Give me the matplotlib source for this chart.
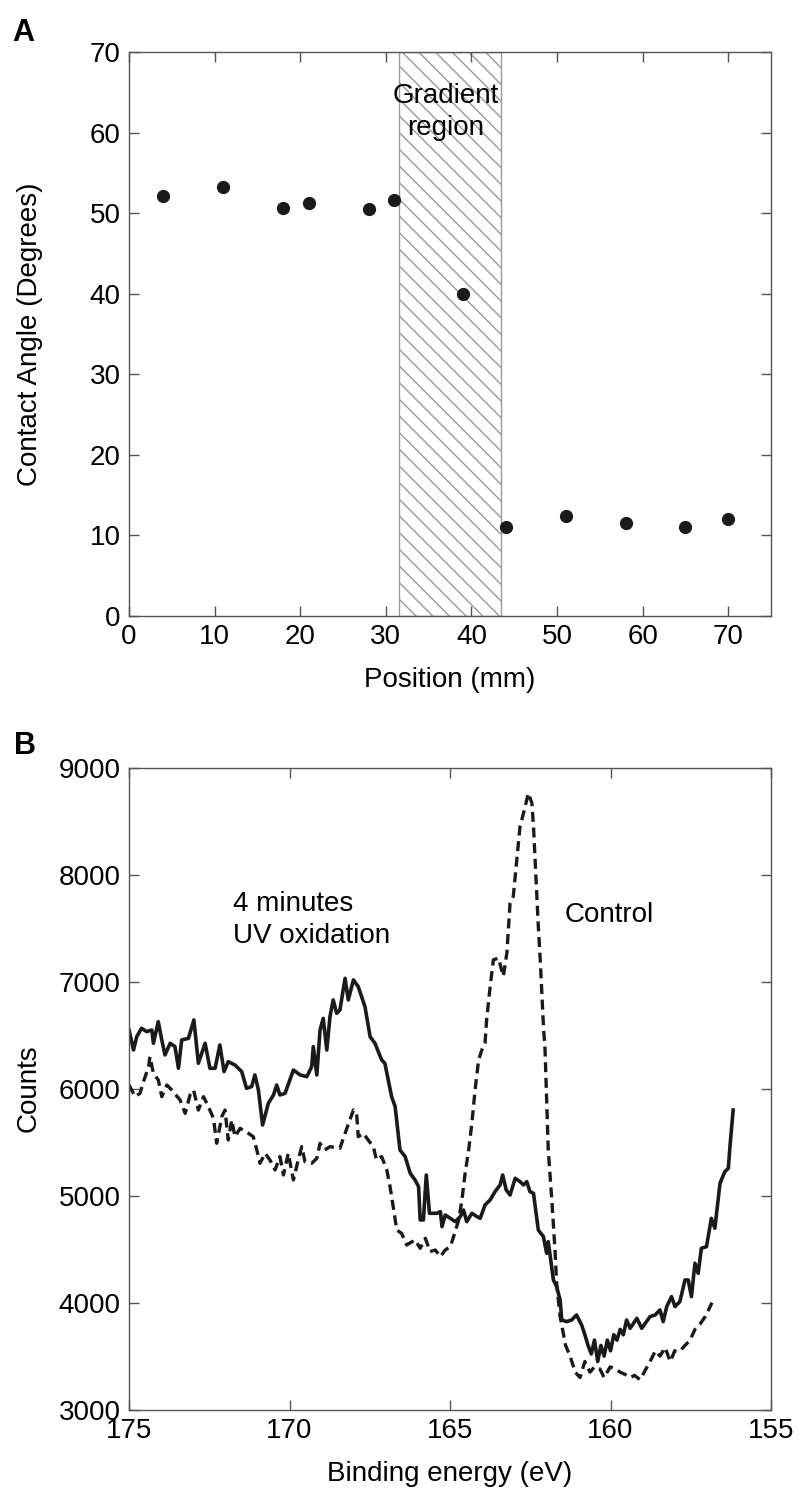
import matplotlib
matplotlib.use('Agg')
import matplotlib.pyplot as plt

plt.rcParams['font.family'] = ['Liberation Sans', 'DejaVu Sans']
plt.rcParams['hatch.color'] = '#9a9a9a'
plt.rcParams['hatch.linewidth'] = 1.0

# panel A: contact angle along the gradient
position = [4, 11, 18, 21, 28, 31, 39, 44, 51, 58, 65, 70]
angle = [52.1, 53.3, 50.7, 51.3, 50.5, 51.7, 40.0, 11.0, 12.4, 11.6, 11.1, 12.1]
gradient_span = (31.5, 43.5)

# panel B: XPS S 2p spectra
uv_energy = [175.0, 174.86, 174.76, 174.61, 174.45, 174.29, 174.24, 174.09, 173.98, 173.88,
             173.72, 173.57, 173.46, 173.36, 173.15, 172.98, 172.84, 172.63, 172.48, 172.32,
             172.17, 172.04, 171.91, 171.70, 171.49, 171.34, 171.18, 171.08, 170.97, 170.84,
             170.66, 170.50, 170.40, 170.30, 170.14, 169.88, 169.67, 169.46, 169.31, 169.26,
             169.15, 169.05, 168.95, 168.84, 168.74, 168.64, 168.53, 168.43, 168.27, 168.17,
             168.01, 167.86, 167.65, 167.49, 167.34, 167.13, 167.03, 166.82, 166.71, 166.56,
             166.40, 166.24, 166.09, 165.98, 165.93, 165.83, 165.74, 165.64, 165.41, 165.30,
             165.25, 165.15, 164.99, 164.84, 164.68, 164.58, 164.48, 164.32, 164.16, 164.06,
             163.91, 163.75, 163.60, 163.44, 163.36, 163.25, 163.13, 162.97, 162.82, 162.71,
             162.61, 162.51, 162.40, 162.25, 162.09, 161.99, 161.94, 161.78, 161.68, 161.57,
             161.52, 161.37, 161.21, 161.06, 160.90, 160.80, 160.70, 160.60, 160.50, 160.40,
             160.30, 160.20, 160.10, 160.00, 159.90, 159.80, 159.70, 159.60, 159.50, 159.39,
             159.18, 159.03, 158.77, 158.61, 158.46, 158.36, 158.25, 158.10, 157.99, 157.84,
             157.68, 157.58, 157.48, 157.37, 157.27, 157.17, 157.01, 156.86, 156.75, 156.59,
             156.44, 156.33, 156.28, 156.18]
uv_counts = [6548, 6361, 6486, 6564, 6533, 6548, 6424, 6626, 6455, 6315,
             6424, 6393, 6190, 6455, 6470, 6642, 6237, 6424, 6190, 6190,
             6408, 6159, 6252, 6221, 6159, 6003, 6019, 6128, 5987, 5660,
             5863, 5941, 6034, 5941, 5956, 6174, 6128, 6112, 6206, 6393,
             6128, 6548, 6657, 6361, 6673, 6829, 6704, 6735, 7031, 6829,
             7016, 6953, 6766, 6486, 6424, 6268, 6237, 5925, 5832, 5427,
             5365, 5209, 5146, 5084, 4773, 4773, 5193, 4835, 4835, 4851,
             4710, 4819, 4788, 4757, 4804, 4866, 4757, 4835, 4804, 4788,
             4913, 4960, 5037, 5100, 5193, 5053, 5006, 5162, 5131, 5100,
             5131, 5037, 5022, 4679, 4617, 4461, 4570, 4212, 4150, 4025,
             3838, 3823, 3838, 3885, 3791, 3700, 3600, 3520, 3650, 3450,
             3600, 3500, 3650, 3550, 3700, 3650, 3750, 3700, 3838, 3760,
             3854, 3760, 3869, 3885, 3932, 3823, 3963, 4056, 3963, 4010,
             4212, 4212, 4056, 4368, 4274, 4508, 4523, 4788, 4695, 5115,
             5224, 5256, 5458, 5800]

control_energy = [175.0, 174.81, 174.66, 174.55, 174.39, 174.35, 174.24, 174.09, 173.98, 173.82,
                  173.67, 173.41, 173.25, 173.10, 172.99, 172.84, 172.68, 172.53, 172.37, 172.27,
                  172.11, 172.01, 171.91, 171.80, 171.70, 171.54, 171.28, 171.13, 171.02, 170.92,
                  170.76, 170.61, 170.45, 170.30, 170.19, 170.04, 169.88, 169.73, 169.62, 169.52,
                  169.31, 169.15, 169.05, 168.90, 168.74, 168.43, 168.27, 168.12, 168.01, 167.91,
                  167.86, 167.70, 167.55, 167.39, 167.29, 167.13, 166.97, 166.87, 166.77, 166.66,
                  166.51, 166.35, 166.09, 165.93, 165.77, 165.62, 165.46, 165.30, 165.15, 164.99,
                  164.84, 164.73, 164.63, 164.53, 164.42, 164.32, 164.22, 164.11, 164.01, 163.91,
                  163.86, 163.75, 163.65, 163.49, 163.34, 163.23, 163.13, 163.03, 162.92, 162.82,
                  162.71, 162.61, 162.56, 162.45, 162.40, 162.35, 162.30, 162.25, 162.19, 162.14,
                  162.09, 162.04, 161.99, 161.94, 161.83, 161.73, 161.68, 161.57, 161.40, 161.26,
                  161.10, 160.95, 160.80, 160.64, 160.50, 160.33, 160.20, 160.01, 159.85, 159.70,
                  159.55, 159.39, 159.25, 159.08, 158.95, 158.77, 158.60, 158.46, 158.30, 158.14,
                  158.00, 157.83, 157.68, 157.52, 157.37, 157.21, 157.05, 156.95, 156.84]
control_counts = [6034, 5925, 5956, 6065, 6206, 6299, 6143, 6081, 5925, 6034,
                  5987, 5894, 5769, 5941, 5987, 5800, 5925, 5832, 5723, 5489,
                  5738, 5800, 5520, 5707, 5551, 5629, 5582, 5551, 5427, 5302,
                  5396, 5333, 5240, 5365, 5193, 5396, 5146, 5333, 5458, 5318,
                  5302, 5349, 5489, 5427, 5458, 5442, 5582, 5707, 5801, 5769,
                  5551, 5582, 5520, 5458, 5333, 5365, 5240, 5084, 4897, 4679,
                  4648, 4539, 4586, 4508, 4601, 4477, 4492, 4430, 4492, 4523,
                  4664, 4773, 4960, 5209, 5427, 5676, 5988, 6268, 6361, 6424,
                  6644, 6955, 7204, 7220, 7049, 7267, 7734, 7796, 8138, 8450,
                  8575, 8699, 8761, 8668, 8450, 8138, 7827, 7516, 7204, 6893,
                  6582, 6361, 5894, 5427, 4960, 4492, 4181, 3869, 3600, 3500,
                  3350, 3300, 3450, 3350, 3400, 3380, 3300, 3400, 3380, 3350,
                  3330, 3300, 3320, 3280, 3350, 3450, 3550, 3500, 3580, 3450,
                  3550, 3550, 3600, 3650, 3750, 3800, 3870, 3930, 4000]

ink = '#1a1a1a'
spine_col = '#555555'

fig = plt.figure(figsize=(7.99, 14.92), dpi=100)
axA = fig.add_axes([0.1615, 0.5871, 0.8035, 0.378])
axB = fig.add_axes([0.1615, 0.0552, 0.8035, 0.4303])

for ax in (axA, axB):
    for s in ax.spines.values():
        s.set_color(spine_col)
        s.set_linewidth(1.0)
    ax.tick_params(direction='in', top=True, right=True, length=7.5, width=1.0,
                   color=spine_col, labelsize=20, pad=6, labelcolor='black')

# --- A ---
axA.axvspan(*gradient_span, facecolor='white', edgecolor='#9a9a9a', hatch='\\\\',
            linewidth=1.0, zorder=1)
axA.plot(position, angle, 'o', color=ink, markersize=8.5, zorder=3)
axA.set_xlim(0, 75)
axA.set_ylim(0, 70)
axA.set_xticks(range(0, 71, 10))
axA.set_yticks(range(0, 71, 10))
axA.set_xlabel('Position (mm)', fontsize=20)
axA.set_ylabel('Contact Angle (Degrees)', fontsize=20)
axA.xaxis.set_label_coords(0.5, -0.09)
axA.yaxis.set_label_coords(-0.134, 0.5)
axA.text(37, 62.5, 'Gradient\nregion', ha='center', va='center', fontsize=20,
         multialignment='center', linespacing=1.3, zorder=4)
fig.text(0.029, 0.978, 'A', fontsize=22, fontweight='bold', ha='center', va='center')

# --- B ---
axB.plot(uv_energy, uv_counts, '-', color=ink, linewidth=2.6)
axB.plot(control_energy, control_counts, color=ink, linewidth=2.4,
         linestyle=(0, (3.0, 1.7)))
axB.set_xlim(175, 155)
axB.set_ylim(3000, 9000)
axB.set_xticks([175, 170, 165, 160, 155])
axB.set_yticks(range(3000, 9001, 1000))
axB.set_xlabel('Binding energy (eV)', fontsize=20)
axB.set_ylabel('Counts', fontsize=20)
axB.xaxis.set_label_coords(0.5, -0.08)
axB.yaxis.set_label_coords(-0.136, 0.5)
axB.text(171.77, 7578, '4 minutes\nUV oxidation', ha='left', va='center', fontsize=20,
         linespacing=1.3)
axB.text(161.42, 7625, 'Control', ha='left', va='center', fontsize=20)
fig.text(0.031, 0.5, 'B', fontsize=22, fontweight='bold', ha='center', va='center')

fig.savefig('out.png', dpi=100)
